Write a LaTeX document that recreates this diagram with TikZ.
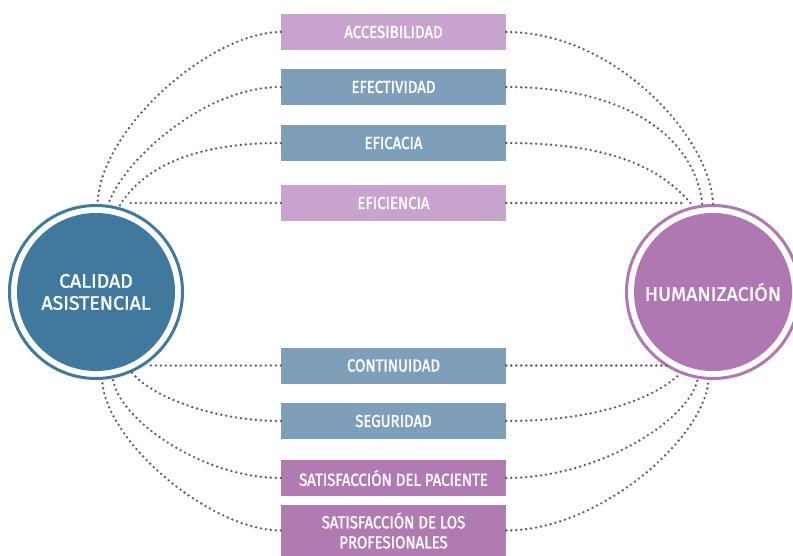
\documentclass[tikz,border=0pt]{standalone}
\usepackage{fontspec}
\setmainfont[FakeBold=1.6]{Fira Sans}
\newfontfamily\boxfont[FakeStretch=0.86,FakeBold=1.6]{Fira Sans}
\newfontfamily\circfont[FakeBold=1.6]{Fira Sans}
\definecolor{cblue}{HTML}{3F7A9E}
\definecolor{cpurple}{HTML}{B078B2}
\definecolor{lpurple}{HTML}{C8A3CD}
\definecolor{bgrey}{HTML}{7E9FBA}
\definecolor{mpurple}{HTML}{B07AB2}
\definecolor{dotgray}{HTML}{5A5A5A}
\begin{document}
\begin{tikzpicture}[x=1pt,y=-1pt,
  box/.style={rectangle, minimum width=225pt, minimum height=36pt, inner sep=0pt, text=white,
    font=\boxfont\fontsize{17.4}{20}\selectfont, align=center},
  ring/.style={circle, line width=3pt, minimum size=173pt, inner sep=0pt},
  core/.style={circle, minimum size=158pt, inner sep=0pt, text=white, align=center,
    font=\circfont\fontsize{19.5}{22}\selectfont},
  dots/.style={draw=dotgray, line width=2.6pt, line cap=round, dash pattern=on 0pt off 5pt}]
\useasboundingbox (0,0) rectangle (793,556);
\clip (0,0) rectangle (793,556);
% boxes
\node[box, fill=lpurple] (b1) at (393.5,32) {ACCESIBILIDAD};
\node[box, fill=bgrey] (b2) at (393.5,87) {EFECTIVIDAD};
\node[box, fill=bgrey] (b3) at (393.5,143) {EFICACIA};
\node[box, fill=lpurple] (b4) at (393.5,203) {EFICIENCIA};
\node[box, fill=bgrey] (b5) at (393.5,365.5) {CONTINUIDAD};
\node[box, fill=bgrey] (b6) at (393.5,421) {SEGURIDAD};
\node[box, fill=mpurple] (b7) at (393.5,478) {SATISFACCIÓN DEL PACIENTE};
\node[box, fill=mpurple, minimum height=51pt] (b8) at (393.5,530.5) {SATISFACCIÓN DE LOS\\PROFESIONALES};
% circles
\node[ring, draw=cblue] (Lr) at (96,292) {};
\node[core, fill=cblue] (L) at (96,292) {CALIDAD\\ASISTENCIAL};
\node[ring, draw=cpurple] (Rr) at (713,292) {};
\node[core, fill=cpurple] (R) at (713,292) {HUMANIZACIÓN};
% left connectors
\draw[dots] (b1.west) .. controls +(-70,0) and +(2,-75) .. (Lr.89);
\draw[dots] (b2.west) .. controls +(-80,0) and +(12,-40) .. (Lr.82);
\draw[dots] (b3.west) .. controls +(-110,0) and +(15,-25) .. (Lr.75);
\draw[dots] (b4.west) -- (b4.west -| Lr.69);
\draw[dots] (b5.west) -- (b5.west -| Lr.-55);
\draw[dots] (b6.west) .. controls +(-65,0) and +(20,25) .. (Lr.-66);
\draw[dots] (b7.west) .. controls +(-80,0) and +(5,40) .. (Lr.-79);
\draw[dots] (b8.west) .. controls +(-70,0) and +(3,62) .. (Lr.-86);
% right connectors
\draw[dots] (b1.east) .. controls +(110,0) and +(-2,-65) .. (Rr.90);
\draw[dots] (b2.east) .. controls +(134,0) and +(-5,-57) .. (Rr.97);
\draw[dots] (b3.east) .. controls +(120,0) and +(-25,-30) .. (Rr.103);
\draw[dots] (b4.east) -- (b4.east -| Rr.111);
\draw[dots] (b5.east) -- (b5.east -| Rr.-120);
\draw[dots] (b6.east) .. controls +(100,0) and +(-20,20) .. (Rr.-112);
\draw[dots] (b7.east) .. controls +(94,0) and +(-7,40) .. (Rr.-100);
\draw[dots] (b8.east) .. controls +(94,0) and +(-3,57) .. (Rr.-93);
\end{tikzpicture}
\end{document}
